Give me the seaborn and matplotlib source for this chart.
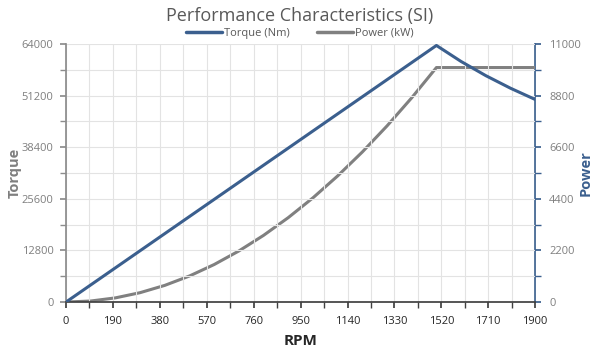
import matplotlib
matplotlib.use("Agg")
import matplotlib.pyplot as plt
import seaborn as sns
import pandas as pd
from matplotlib.ticker import MultipleLocator
from matplotlib.lines import Line2D

rpm = [0, 100, 200, 300, 400, 500, 600, 700, 800, 900, 1000, 1100, 1200,
       1300, 1400, 1500, 1600, 1700, 1800, 1900]
torque_nm = [0, 4244, 8488, 12732, 16977, 21221, 25465, 29709, 33953, 38197,
             42441, 46686, 50930, 55174, 59418, 63662, 59683, 56172, 53052, 50259]
power_kw = [0, 44, 178, 400, 711, 1111, 1600, 2178, 2844, 3600, 4444, 5378,
            6400, 7511, 8711, 10000, 10000, 10000, 10000, 10000]
x_ticks = [0, 190, 380, 570, 760, 950, 1140, 1330, 1520, 1710, 1900]
left_ticks = [0, 12800, 25600, 38400, 51200, 64000]
right_ticks = [0, 2200, 4400, 6600, 8800, 11000]

df = pd.DataFrame({"RPM": rpm, "Torque": torque_nm, "Power": power_kw})

sns.set_theme(style="white")
plt.rcParams["font.family"] = ["Open Sans", "DejaVu Sans"]

blue = "#3B5F8E"
grey = "#808080"
tick_col = "#7F7F7F"

fig = plt.figure(figsize=(6, 3.5), dpi=100)
ax = fig.add_axes([0.11, 0.137, 0.782, 0.737])
ax2 = ax.twinx()

sns.lineplot(data=df, x="RPM", y="Torque", ax=ax, color=blue, linewidth=2.2,
             zorder=3, legend=False)
sns.lineplot(data=df, x="RPM", y="Power", ax=ax2, color=grey, linewidth=2.2,
             zorder=3, legend=False)
ax.set_zorder(ax2.get_zorder() + 1)
ax.patch.set_visible(False)

ax.set_xlim(0, 1900)
ax.set_ylim(0, 64000)
ax2.set_ylim(0, 11000)
ax.set_xticks(x_ticks)
ax.set_yticks(left_ticks)
ax2.set_yticks(right_ticks)
ax.xaxis.set_minor_locator(MultipleLocator(95))
ax.yaxis.set_minor_locator(MultipleLocator(6400))
ax2.yaxis.set_minor_locator(MultipleLocator(1100))

ax.grid(which="both", axis="both", color="#E3E3E3", linewidth=0.8)
ax.set_axisbelow(True)

for a in (ax, ax2):
    for s in a.spines.values():
        s.set_visible(False)
ax.spines["left"].set_visible(True)
ax.spines["left"].set_color("#8C8C8C")
ax.spines["bottom"].set_visible(True)
ax.spines["bottom"].set_color("#404040")
ax2.spines["right"].set_visible(True)
ax2.spines["right"].set_color(blue)

ax.tick_params(axis="x", which="both", direction="out", length=4, color="#404040",
               labelsize=8, labelcolor="#262626", bottom=True, pad=6)
ax.tick_params(axis="y", which="both", direction="out", length=4, color="#8C8C8C",
               labelsize=8, labelcolor=tick_col, left=True, pad=5)
ax2.tick_params(axis="y", which="both", direction="out", length=4, color=blue,
                labelsize=8, labelcolor=tick_col, right=True, pad=6)

ax.set_xlabel("RPM", fontsize=11, fontweight="bold", color="#262626", labelpad=5)
ax.set_ylabel("Torque", fontsize=10.5, fontweight="bold", color=tick_col)
ax2.set_ylabel("Power", fontsize=10.5, fontweight="bold", color=blue)
ax.yaxis.set_label_coords(-0.095, 0.5)
ax2.yaxis.set_label_coords(1.092, 0.5)

fig.text(0.5, 0.955, "Performance Characteristics (SI)", ha="center", va="center",
         fontsize=13, color="#595959")

handles = [Line2D([], [], color=blue, linewidth=2.5),
           Line2D([], [], color=grey, linewidth=2.5)]
fig.legend(handles, ["Torque (Nm)", "Power (kW)"], loc="center",
           bbox_to_anchor=(0.5, 0.905), ncol=2, frameon=False, fontsize=8,
           handlelength=3.2, handletextpad=0.2, columnspacing=2.5,
           labelcolor="#595959")

fig.savefig("out.png", dpi=100)
